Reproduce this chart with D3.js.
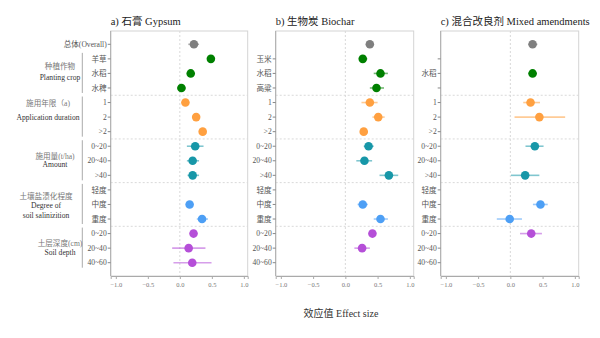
<!DOCTYPE html>
<html><head><meta charset="utf-8">
<script src="https://cdn.jsdelivr.net/npm/d3@7"></script>
<style>body{margin:0;background:#fff}svg{display:block}</style>
</head><body>
<svg id="c" width="600" height="338"></svg>
<script>
// ---- data ----
const panelTitles = ["a) 石膏 Gypsum", "b) 生物炭 Biochar", "c) 混合改良剂 Mixed amendments"];
const rowGroups = ["overall","crop","crop","crop","dur","dur","dur","amt","amt","amt","sal","sal","sal","dep","dep","dep"];
const labelsA = ["总体(Overall)","羊草","水稻","水稗","1","2",">2","0~20","20~40",">40","轻度","中度","重度","0~20","20~40","40~60"];
const labelsB = ["","玉米","水稻","高粱","1","2",">2","0~20","20~40",">40","轻度","中度","重度","0~20","20~40","40~60"];
const labelsC = ["","","水稻","","1","2",">2","0~20","20~40",">40","轻度","中度","重度","0~20","20~40","40~60"];
const tickRowsB = [false,true,true,true,true,true,true,true,true,true,true,true,true,true,true,true];
const meanA = [0.22,0.485,0.17,0.025,0.087,0.255,0.357,0.24,0.20,0.20,null,0.153,0.347,0.214,0.138,0.194];
const lowA  = [0.13,0.43,0.12,-0.04,0.06,0.21,0.31,0.11,0.11,0.12,null,0.12,0.265,0.18,-0.12,-0.10];
const highA = [0.30,0.54,0.22,0.09,0.12,0.30,0.40,0.37,0.30,0.30,null,0.19,0.44,0.25,0.40,0.495];
const meanB = [0.38,0.27,0.545,0.483,0.38,0.51,0.285,0.36,0.296,0.675,null,0.27,0.545,0.42,0.26,null];
const lowB  = [0.35,0.21,0.44,0.38,0.25,0.42,0.23,0.285,0.17,0.53,null,0.19,0.44,0.37,0.14,null];
const highB = [0.41,0.34,0.66,0.60,0.50,0.61,0.35,0.44,0.415,0.82,null,0.35,0.66,0.47,0.38,null];
const meanC = [0.345,null,0.345,null,0.313,0.45,null,0.38,null,0.23,null,0.467,-0.01,0.324,null,null];
const lowC  = [0.28,null,0.28,null,0.20,0.065,null,0.235,null,0.01,null,0.35,-0.21,0.15,null,null];
const highC = [0.42,null,0.41,null,0.46,0.85,null,0.515,null,0.45,null,0.58,0.18,0.49,null,null];
const groupKeys = ["crop","dur","amt","sal","dep"];
const groupLabels = [["种植作物","Planting crop"],["施用年限（a)","Application duration"],["施用量(t/ha)","Amount"],["土壤盐渍化程度","Degree of","soil salinizition"],["土层深度(cm)","Soil depth"]];
const xTicks = [-1.0,-0.5,0.0,0.5,1.0];
const xAxisTitle = "效应值 Effect size";
const colors = {overall:"#7f7f7f",crop:"#008000",dur:"#ffa040",amt:"#1797a8",sal:"#4d9ff5",dep:"#b54fd8"};

// ---- layout ----
const svg = d3.select("#c");
const FONT = "'Liberation Serif','Noto Sans CJK SC',serif";
const plotTop = 31, plotBottom = 276;
const panelX = [[110.7,247.7],[275.7,413.7],[440.7,578.7]];
const y = d3.scalePoint().domain(d3.range(16)).range([44.3, 262.7]);
const groupTextX = [60,48,55,46,60];
const groupTextY0 = [-7,-13.5,-4.5,-8,-5];
const groupLineH = [11,13.4,7.6,9.3,9.4];

const panels = [
  {labels:labelsA, mean:meanA, low:lowA, high:highA, tick:rowGroups.map(()=>true)},
  {labels:labelsB, mean:meanB, low:lowB, high:highB, tick:tickRowsB},
  {labels:labelsC, mean:meanC, low:lowC, high:highC, tick:tickRowsB}
];

panels.forEach((p,pi)=>{
  const [x0,x1] = panelX[pi];
  const x = d3.scaleLinear().domain([-1.08,1.06]).range([x0,x1]);
  const g = svg.append("g");
  g.append("rect").attr("x",x0).attr("y",plotTop).attr("width",x1-x0).attr("height",plotBottom-plotTop)
    .attr("fill","none").attr("stroke","#d4d4d4").attr("stroke-width",1);
  g.append("line").attr("x1",x(0)).attr("x2",x(0)).attr("y1",plotTop).attr("y2",plotBottom)
    .attr("stroke","#d9d9d9").attr("stroke-dasharray","2,2");
  [3,6,9,12].forEach(k=>{
    const yy = y(k) + y.step()/2;
    g.append("line").attr("x1",x0).attr("x2",x1).attr("y1",yy).attr("y2",yy)
      .attr("stroke","#d9d9d9").attr("stroke-dasharray","2,2");
  });
  const xa = g.append("g").attr("transform",`translate(0,${plotBottom})`)
    .call(d3.axisBottom(x).tickValues(xTicks).tickFormat(d=>d3.format(".1f")(d).replace("-","−")).tickSize(3).tickPadding(3));
  xa.select(".domain").attr("stroke","#aaa");
  xa.selectAll(".tick line").attr("stroke","#aaa");
  xa.selectAll("text").attr("font-family",FONT).attr("font-size",6.5).attr("fill","#777");
  g.append("line").attr("x1",x0).attr("x2",x0).attr("y1",plotTop).attr("y2",plotBottom).attr("stroke","#aaa");
  d3.range(16).forEach(i=>{
    if(!p.tick[i]) return;
    g.append("line").attr("x1",x0-3).attr("x2",x0).attr("y1",y(i)).attr("y2",y(i)).attr("stroke","#888");
    if(p.labels[i]) g.append("text").attr("x",x0-4).attr("y",y(i)).attr("dy","0.35em")
      .attr("text-anchor","end").attr("font-family",FONT).attr("font-size",7.6).attr("fill","#555").text(p.labels[i]);
  });
  d3.range(16).forEach(i=>{
    if(p.mean[i]==null) return;
    const c = colors[rowGroups[i]];
    g.append("line").attr("x1",x(p.low[i])).attr("x2",x(p.high[i])).attr("y1",y(i)).attr("y2",y(i))
      .attr("stroke",c).attr("stroke-opacity",0.55).attr("stroke-width",1.6);
    g.append("circle").attr("cx",x(p.mean[i])).attr("cy",y(i)).attr("r",4.3).attr("fill",c);
  });
  svg.append("text").attr("x",x0).attr("y",25).attr("font-family",FONT).attr("font-size",10.5)
    .attr("fill","#222").text(panelTitles[pi]);
});

groupKeys.forEach((k,gi)=>{
  const idx = d3.range(16).filter(i=>rowGroups[i]===k);
  const ya = y(idx[0]), yb = y(idx[idx.length-1]);
  svg.append("line").attr("x1",82.3).attr("x2",82.3).attr("y1",ya-6).attr("y2",yb+5)
    .attr("stroke","#aaa").attr("stroke-width",1);
  const mid = (ya+yb)/2;
  groupLabels[gi].forEach((t,li)=>{
    svg.append("text").attr("x",groupTextX[gi]).attr("y",mid+groupTextY0[gi]+li*groupLineH[gi]).attr("dy","0.35em")
      .attr("text-anchor","middle").attr("font-family",FONT).attr("font-size",7.6).attr("fill",li===0?"#777":"#333").text(t);
  });
});

svg.append("text").attr("x",341).attr("y",313).attr("dy","0.35em").attr("text-anchor","middle")
  .attr("font-family",FONT).attr("font-size",10).attr("fill","#333").text(xAxisTitle);
</script>
</body></html>
